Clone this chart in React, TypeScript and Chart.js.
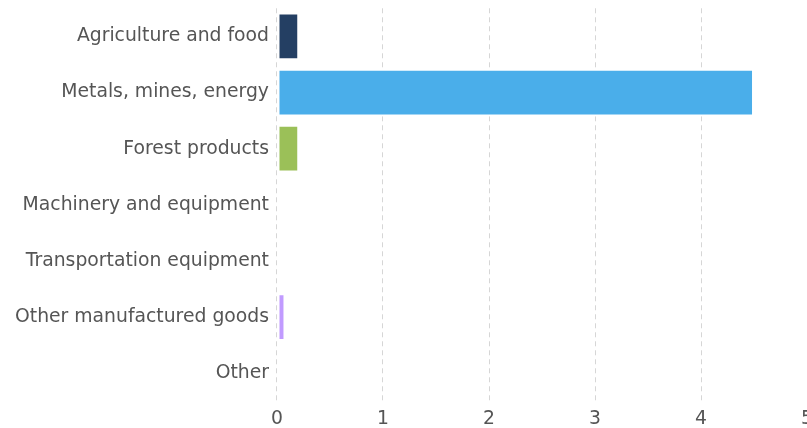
import React, { useEffect, useRef } from "react";
import { Chart, registerables } from "chart.js";

Chart.register(...registerables);

const categories = [
  "Agriculture and food",
  "Metals, mines, energy",
  "Forest products",
  "Machinery and equipment",
  "Transportation equipment",
  "Other manufactured goods",
  "Other",
];
const values = [0.21, 4.5, 0.21, 0, 0, 0.08, 0];
const barColors = ["#243f63", "#4aaeea", "#9bc058", "#c19bff", "#888888", "#c19bff", "#888888"];
const xTicks = [0, 1, 2, 3, 4, 5];

export default function App() {
  const ref = useRef<HTMLCanvasElement | null>(null);
  useEffect(() => {
    document.body.style.overflow = "hidden";
    const chart = new Chart(ref.current!, {
      type: "bar",
      data: {
        labels: categories,
        datasets: [
          {
            data: values,
            backgroundColor: barColors,
            borderColor: "#ffffff",
            borderWidth: 2,
            borderSkipped: false,
            categoryPercentage: 0.85,
            barPercentage: 1,
          },
        ],
      },
      options: {
        indexAxis: "y",
        animation: false,
        responsive: false,
        maintainAspectRatio: false,
        layout: { padding: 0 },
        plugins: { legend: { display: false }, tooltip: { enabled: false } },
        scales: {
          x: {
            min: 0,
            max: 5,
            afterBuildTicks: (axis: any) => {
              axis.ticks = xTicks.map((v) => ({ value: v }));
            },
            grid: { color: "#d6d6d6", lineWidth: 1, drawTicks: false },
            border: { display: false, dash: [5, 4] },
            ticks: {
              color: "#555555",
              padding: 6,
              font: { family: "DejaVu Sans", size: 18.8 },
            },
          },
          y: {
            grid: { display: false, drawTicks: false },
            border: { display: false },
            ticks: {
              color: "#555555",
              padding: 8,
              font: { family: "DejaVu Sans", size: 18.8 },
            },
          },
        },
      },
    });
    return () => chart.destroy();
  }, []);
  return (
    <div style={{ position: "fixed", left: 0, top: 0, width: 807, height: 428, overflow: "hidden" }}>
      <canvas
        ref={ref}
        width={812}
        height={447}
        style={{ display: "block", position: "absolute", left: 7, top: -11 }}
      />
    </div>
  );
}
